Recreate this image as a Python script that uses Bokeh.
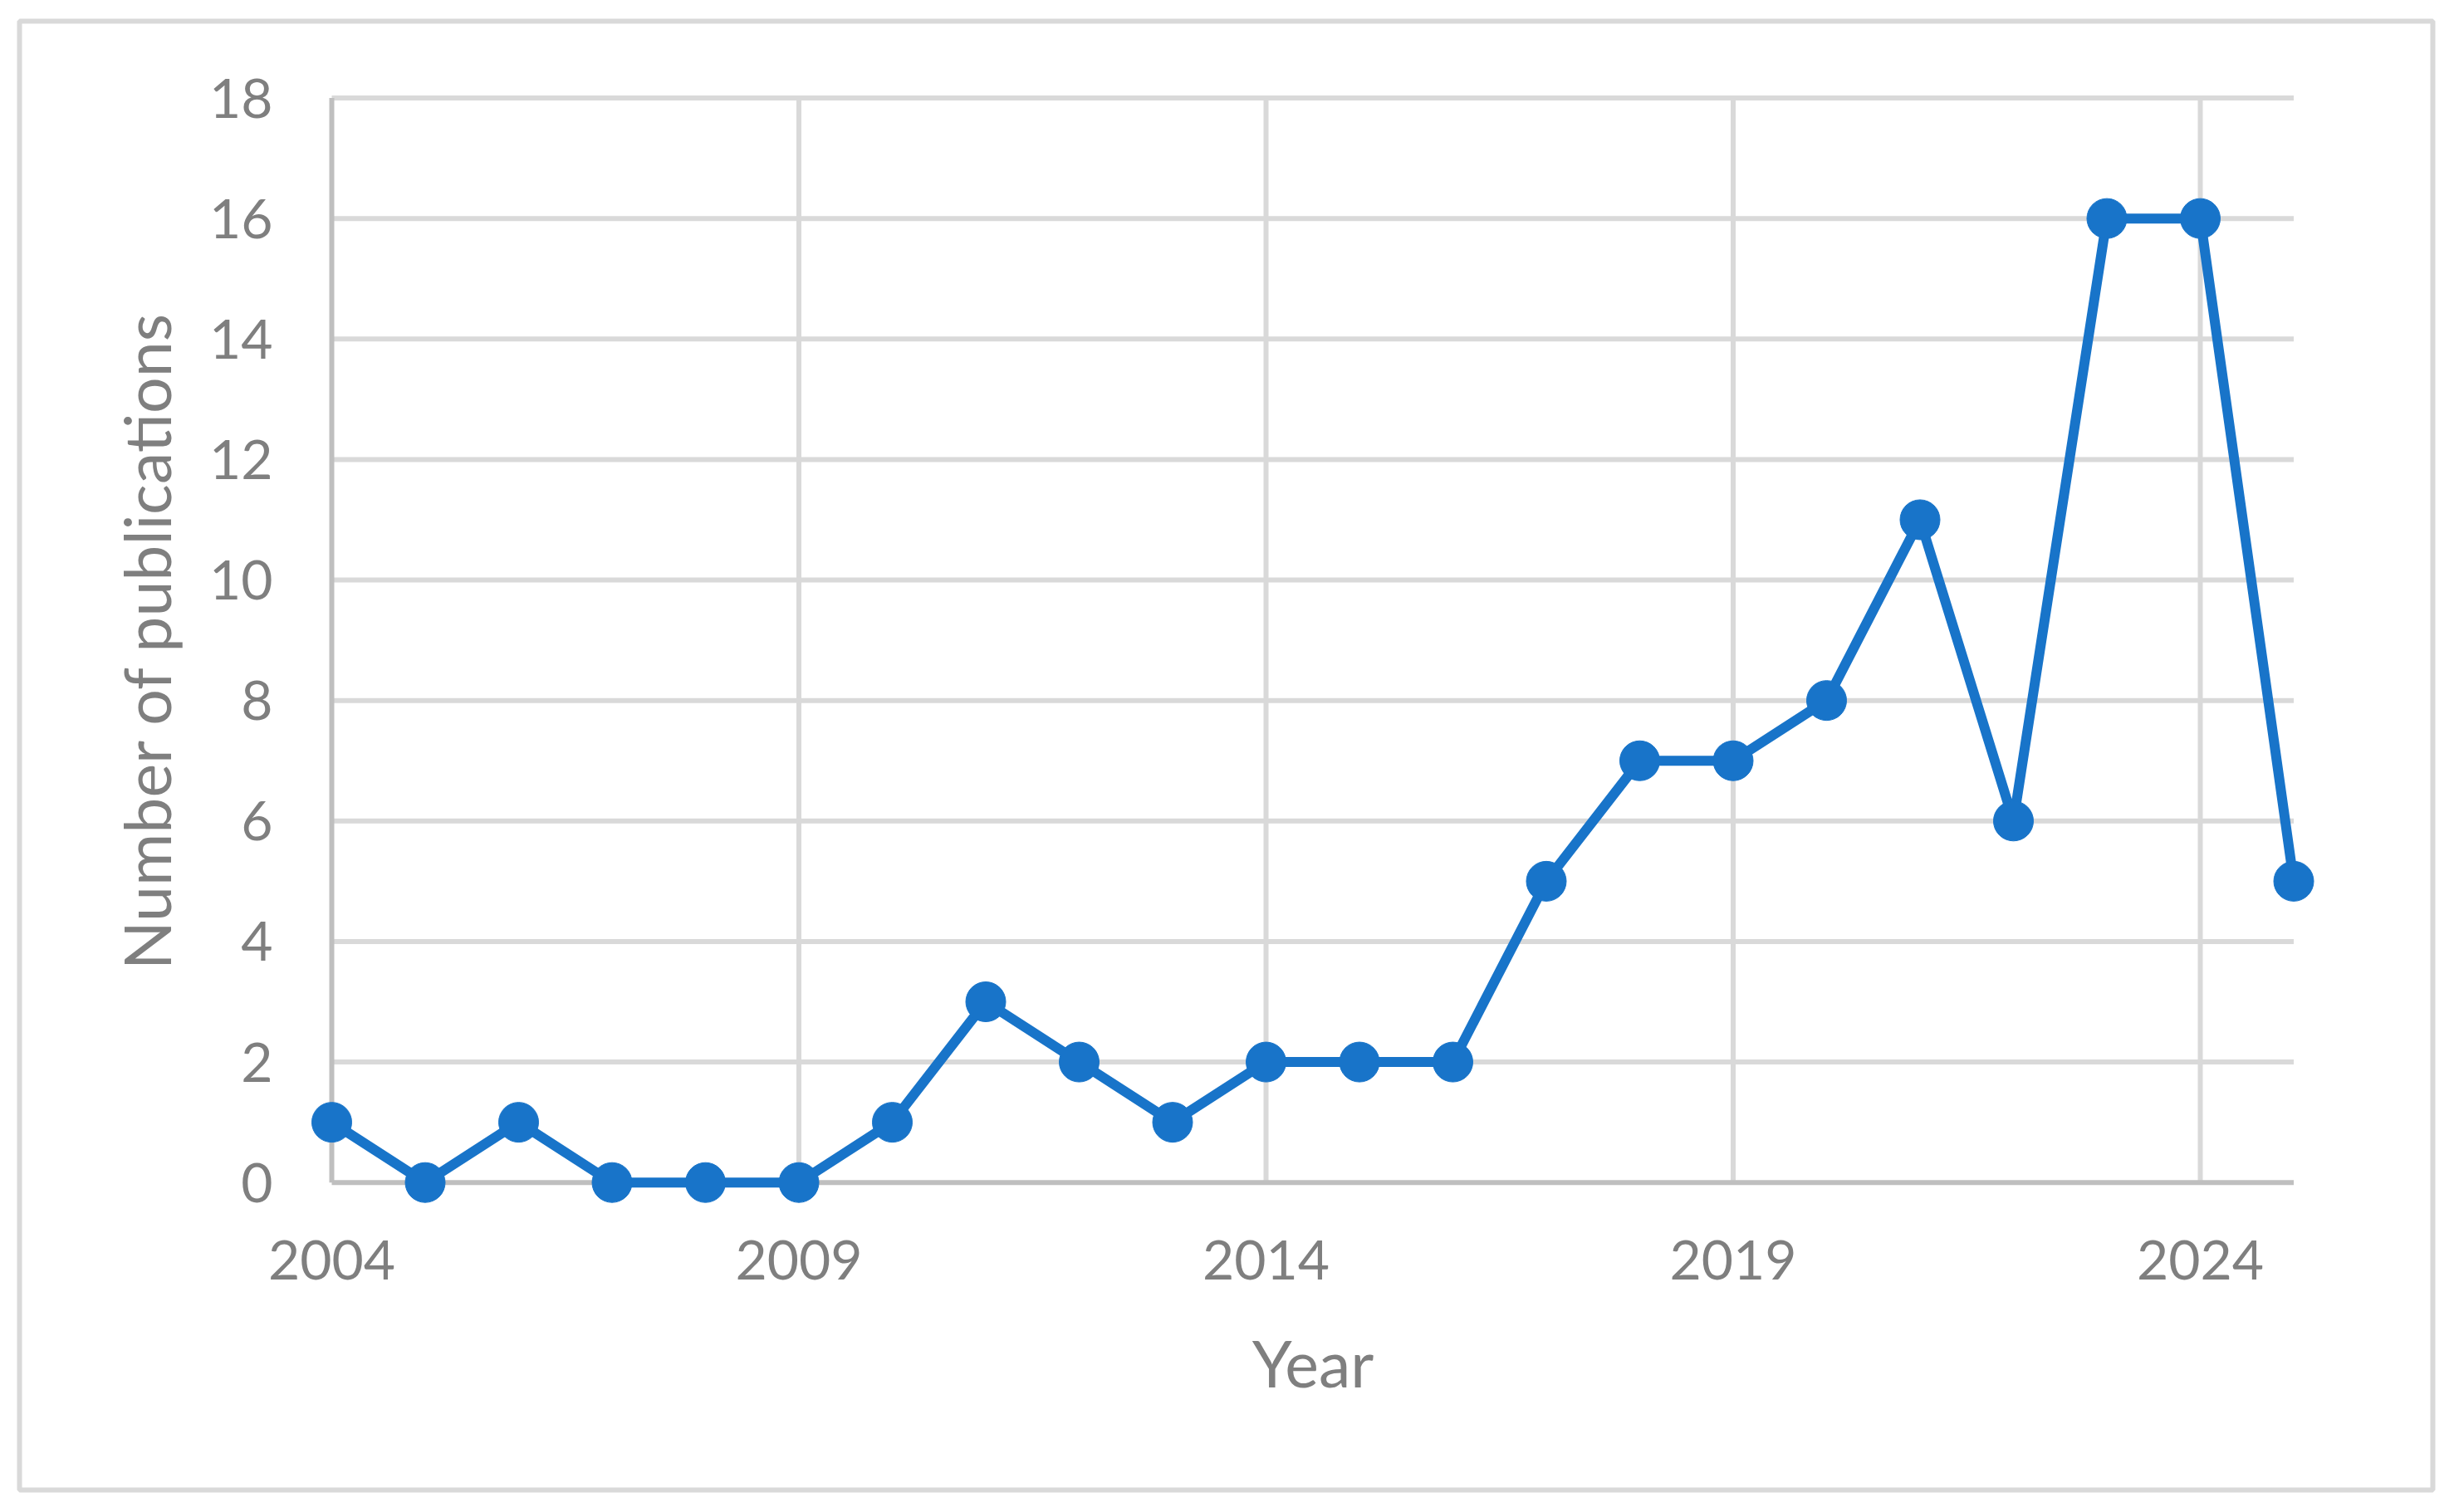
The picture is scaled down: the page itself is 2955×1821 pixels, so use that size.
from bokeh.plotting import figure
from bokeh.models import FixedTicker, Range1d
from bokeh.embed import file_html
from bokeh.resources import INLINE

# ---- data ----
years = [2004, 2005, 2006, 2007, 2008, 2009, 2010, 2011, 2012, 2013, 2014,
         2015, 2016, 2017, 2018, 2019, 2020, 2021, 2022, 2023, 2024, 2025]
publications = [1, 0, 1, 0, 0, 0, 1, 3, 2, 1, 2,
                2, 2, 5, 7, 7, 8, 11, 6, 16, 16, 5]
x_ticks = [2004, 2009, 2014, 2019, 2024]
y_ticks = [0, 2, 4, 6, 8, 10, 12, 14, 16, 18]
x_label = "Year"
y_label = "Number of publications"

x_start, x_end = 2004, 2025
y_start, y_end = 0, 18

# ---- layout / style ----
W, H = 2945, 1810
# frame = the outer chart border (canvas px)
F_LEFT, F_TOP, F_RIGHT, F_BOTTOM = 23, 25, 2929, 1794
# data area inside it (canvas px)
D_LEFT, D_RIGHT, D_TOP, D_BOTTOM = 399, 2761.5, 117.5, 1423.7
px_x = (D_RIGHT - D_LEFT) / (x_end - x_start)
px_y = (D_BOTTOM - D_TOP) / (y_end - y_start)

BLUE = "#1874c9"
GRID = "#d9d9d9"
AXIS = "#bfbfbf"
TEXT = "#7f7f7f"
FONT = "Lato"

p = figure(width=W, height=H, output_backend="svg", toolbar_location=None,
           x_range=Range1d(x_start - (D_LEFT - F_LEFT) / px_x, x_end + (F_RIGHT - D_RIGHT) / px_x),
           y_range=Range1d(y_start - (F_BOTTOM - D_BOTTOM) / px_y, y_end + (D_TOP - F_TOP) / px_y),
           min_border_left=F_LEFT, min_border_right=W - F_RIGHT,
           min_border_top=F_TOP, min_border_bottom=H - F_BOTTOM)
p.background_fill_color = "white"
p.border_fill_color = "white"
p.outline_line_color = GRID
p.outline_line_width = 6
p.xgrid.visible = False
p.ygrid.visible = False

# grid lines (from the tick values) bounded to the data area
h_grid = [v for v in y_ticks if v != y_start]
v_grid = [v for v in x_ticks if v != x_start]
p.segment(x0=[x_start] * len(h_grid), x1=[x_end] * len(h_grid), y0=h_grid, y1=h_grid,
          line_color=GRID, line_width=6)
p.segment(x0=v_grid, x1=v_grid, y0=[y_start] * len(v_grid), y1=[y_end] * len(v_grid),
          line_color=GRID, line_width=6)
# axis lines
p.segment(x0=[x_start, x_start], x1=[x_end, x_start], y0=[y_start, y_start], y1=[y_start, y_end],
          line_color=AXIS, line_width=6)

# series
p.line(years, publications, line_color=BLUE, line_width=12)
p.scatter(years, publications, size=48, fill_color=BLUE, line_color=BLUE)

for ax in (p.xaxis, p.yaxis):
    ax.axis_line_color = None
    ax.major_tick_line_color = None
    ax.minor_tick_line_color = None
    ax.major_label_text_font = FONT
    ax.major_label_text_font_size = "66px"
    ax.major_label_text_color = TEXT
    ax.axis_label_text_font = FONT
    ax.axis_label_text_font_size = "77px"
    ax.axis_label_text_font_style = "normal"
    ax.axis_label_text_color = TEXT

p.xaxis.ticker = FixedTicker(ticks=x_ticks)
p.yaxis.ticker = FixedTicker(ticks=y_ticks)
p.xaxis.bounds = (x_start, x_end)
p.yaxis.bounds = (y_start, y_end)
p.xaxis.fixed_location = y_start
p.yaxis.fixed_location = x_start
p.xaxis.axis_label = x_label
p.yaxis.axis_label = y_label
p.xaxis.major_label_standoff = 64
p.yaxis.major_label_standoff = 65
p.xaxis.axis_label_standoff = 50
p.yaxis.axis_label_standoff = 27

open("out.html", "w").write(file_html(p, INLINE))
